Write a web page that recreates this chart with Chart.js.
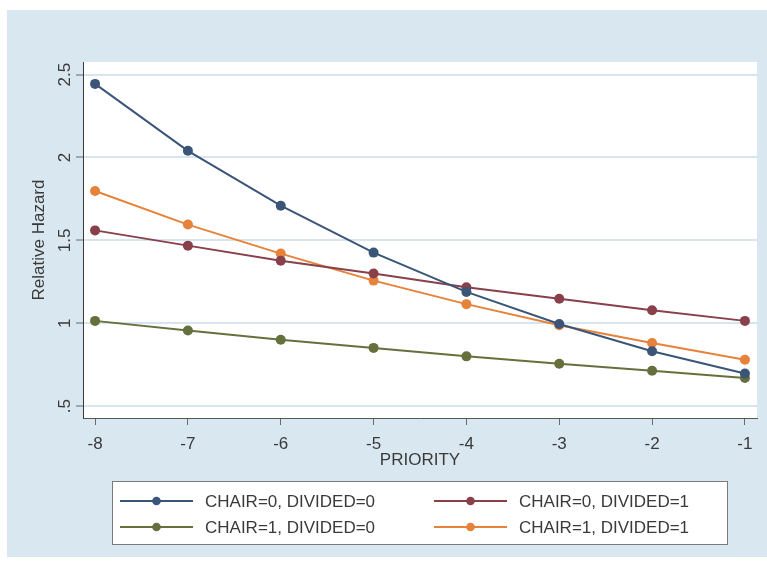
<!DOCTYPE html>
<html>
<head>
<meta charset="utf-8">
<script src="https://cdn.jsdelivr.net/npm/chart.js@4/dist/chart.umd.min.js"></script>
<style>
  html, body { margin: 0; padding: 0; background: #ffffff; }
  #wrap { width: 767px; height: 564px; }
</style>
</head>
<body>
<div id="wrap"><canvas id="c" width="767" height="564"></canvas></div>
<script>
// Relative hazard by PRIORITY, one line per CHAIR / DIVIDED combination
const priority       = [-8, -7, -6, -5, -4, -3, -2, -1];
const chair0Divided0 = [2.444, 2.040, 1.709, 1.426, 1.189, 0.995, 0.831, 0.697];
const chair0Divided1 = [1.560, 1.468, 1.377, 1.300, 1.217, 1.147, 1.078, 1.014];
const chair1Divided0 = [1.014, 0.956, 0.900, 0.851, 0.800, 0.755, 0.713, 0.669];
const chair1Divided1 = [1.798, 1.595, 1.420, 1.257, 1.115, 0.988, 0.880, 0.780];
const seriesLabels   = ['CHAIR=0, DIVIDED=0', 'CHAIR=0, DIVIDED=1', 'CHAIR=1, DIVIDED=0', 'CHAIR=1, DIVIDED=1'];
const yTickValues    = [0.5, 1, 1.5, 2, 2.5];
const yTickLabels    = ['.5', '1', '1.5', '2', '2.5'];
const xTickValues    = [-8, -7, -6, -5, -4, -3, -2, -1];
const xTickLabels    = ['-8', '-7', '-6', '-5', '-4', '-3', '-2', '-1'];

const FONT = '"Liberation Sans", Arial, sans-serif';
const TEXT = '#3a3a3a';
const colors = ['#3a5578', '#88404a', '#66703c', '#e6823a'];
const seriesValues = [chair0Divided0, chair0Divided1, chair1Divided0, chair1Divided1];

const datasets = seriesValues.map((vals, i) => ({
  label: seriesLabels[i],
  data: priority.map((x, k) => ({ x: x, y: vals[k] })),
  borderColor: colors[i],
  backgroundColor: colors[i],
  borderWidth: 2,
  pointRadius: 5,
  pointBorderWidth: 0,
  pointBackgroundColor: colors[i],
  tension: 0
}));

// page background, panel and white plot region
const backdrop = {
  id: 'backdrop',
  beforeDraw(chart) {
    const ctx = chart.ctx, a = chart.chartArea;
    ctx.save();
    ctx.fillStyle = '#ffffff';
    ctx.fillRect(0, 0, chart.width, chart.height);
    ctx.fillStyle = '#d9e7f0';
    ctx.fillRect(7, 10, chart.width - 7, 547);
    ctx.fillStyle = '#ffffff';
    ctx.fillRect(a.left, a.top, a.right - a.left, a.bottom - a.top);
    ctx.restore();
  }
};

// vertical tick labels on the y axis
const yLabels = {
  id: 'yLabels',
  afterDraw(chart) {
    const ctx = chart.ctx, y = chart.scales.y;
    ctx.save();
    ctx.font = '17px ' + FONT;
    ctx.fillStyle = TEXT;
    ctx.textAlign = 'center';
    ctx.textBaseline = 'alphabetic';
    yTickValues.forEach((v, i) => {
      ctx.save();
      ctx.translate(70, y.getPixelForValue(v));
      ctx.rotate(-Math.PI / 2);
      ctx.fillText(yTickLabels[i], 0, 0);
      ctx.restore();
    });
    ctx.restore();
  }
};

// boxed two-column legend under the axis
const boxLegend = {
  id: 'boxLegend',
  afterDraw(chart) {
    const ctx = chart.ctx;
    ctx.save();
    ctx.fillStyle = '#ffffff';
    ctx.fillRect(112, 481, 616, 64);
    ctx.strokeStyle = '#7a7a7a';
    ctx.lineWidth = 1;
    ctx.strokeRect(112.5, 481.5, 615, 63);
    const cols = [120, 434];
    const rows = [501, 527];
    ctx.font = '17px ' + FONT;
    ctx.textBaseline = 'middle';
    ctx.textAlign = 'left';
    chart.data.datasets.forEach((ds, i) => {
      const x0 = cols[i % 2], yy = rows[Math.floor(i / 2)];
      ctx.strokeStyle = ds.borderColor;
      ctx.lineWidth = 2;
      ctx.beginPath();
      ctx.moveTo(x0, yy);
      ctx.lineTo(x0 + 73, yy);
      ctx.stroke();
      ctx.fillStyle = ds.borderColor;
      ctx.beginPath();
      ctx.arc(x0 + 36.5, yy, 4.3, 0, Math.PI * 2);
      ctx.fill();
      ctx.fillStyle = TEXT;
      ctx.fillText(ds.label, x0 + 85, yy + 1);
    });
    ctx.restore();
  }
};

new Chart(document.getElementById('c'), {
  type: 'line',
  data: { datasets: datasets },
  plugins: [backdrop, yLabels, boxLegend],
  options: {
    responsive: false,
    animation: false,
    devicePixelRatio: 1,
    events: [],
    layout: { padding: { left: 0, right: 10, top: 62, bottom: 86 } },
    plugins: { legend: { display: false }, tooltip: { enabled: false } },
    scales: {
      x: {
        type: 'linear',
        min: -8.13,
        max: -0.87,
        afterBuildTicks(scale) { scale.ticks = xTickValues.map(v => ({ value: v })); },
        afterFit(scale) { scale.height = 60; },
        grid: { drawOnChartArea: false, drawTicks: true, tickLength: 7, tickColor: '#6b6b6b', tickWidth: 1 },
        border: { display: true, color: '#555555', width: 1 },
        ticks: {
          padding: 9,
          color: TEXT,
          font: { family: FONT, size: 17 },
          maxRotation: 0,
          callback(value) { const i = xTickValues.indexOf(value); return i >= 0 ? xTickLabels[i] : ''; }
        },
        title: {
          display: true,
          text: 'PRIORITY',
          color: TEXT,
          font: { family: FONT, size: 17 },
          padding: { top: 0, bottom: 7 }
        }
      },
      y: {
        type: 'linear',
        min: 0.428,
        max: 2.576,
        afterBuildTicks(scale) { scale.ticks = yTickValues.map(v => ({ value: v })); },
        afterFit(scale) { scale.width = 83; },
        grid: { color: '#d6e5ef', lineWidth: 2, drawTicks: true, tickLength: 7, tickColor: '#6b6b6b', tickWidth: 1 },
        border: { display: true, color: '#3a3a3a', width: 1 },
        ticks: { display: false },
        title: {
          display: true,
          text: 'Relative Hazard',
          color: TEXT,
          font: { family: FONT, size: 17 },
          padding: { top: 29, bottom: 0 }
        }
      }
    }
  }
});
</script>
</body>
</html>
